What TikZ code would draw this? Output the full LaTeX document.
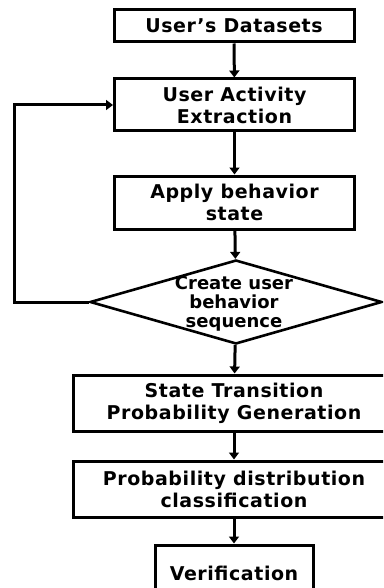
\documentclass[tikz,border=0pt]{standalone}
\usepackage{fontspec}
\setmainfont{DejaVu Sans}
\newfontfamily\boxfont[LetterSpace=3]{DejaVu Sans}
\usetikzlibrary{arrows.meta,shapes.geometric}
\begin{document}
\begin{tikzpicture}[x=1pt,y=-1pt,
  every node/.style={font=\boxfont\bfseries\fontsize{19}{22}\selectfont, align=center},
  box/.style={draw, line width=3pt, inner sep=0pt, minimum width=#1},
  box/.default=240pt,
  dec/.style={draw, diamond, line width=2.6pt, inner sep=0pt, minimum width=292pt, minimum height=84pt},
  dectext/.style={font=\bfseries\fontsize{18}{19}\selectfont},
  arr/.style={line width=3pt, -{Triangle[width=10pt,length=7pt]}}]
\useasboundingbox (0,0) rectangle (383,588);
\clip (0,0) rectangle (383,588);
\node[box, minimum height=32pt] (b1) at (234,26) {User’s Datasets};
\node[box, minimum height=52pt] (b2) at (234.5,105) {User Activity\\Extraction};
\node[box, minimum height=53pt] (b3) at (234.5,202.5) {Apply behavior\\state};
\node[dec] (d) at (236,302) {};
\node[dectext] (dt) at (234,304) {Create user\\behavior\\sequence};
\node[box=322pt, minimum height=56pt] (b4) at (234,403) {State Transition\\Probability Generation};
\node[box=322pt, minimum height=56pt] (b5) at (234,489) {Probability distribution\\classification};
\node[box=158pt, minimum height=56pt] (b6) at (234,573) {Verification};
\coordinate (l1) at (14,302);
\coordinate (l2) at (14,105);
\draw[arr] (b1) -- (b2);
\draw[arr] (b2) -- (b3);
\draw[arr] (b3) -- (d);
\draw[arr] (d) -- (b4);
\draw[arr] (b4) -- (b5);
\draw[arr] (b5) -- (b6);
\draw[arr] (d.west) -- (l1) -- (l2) -- (b2.west);
\end{tikzpicture}
\end{document}
